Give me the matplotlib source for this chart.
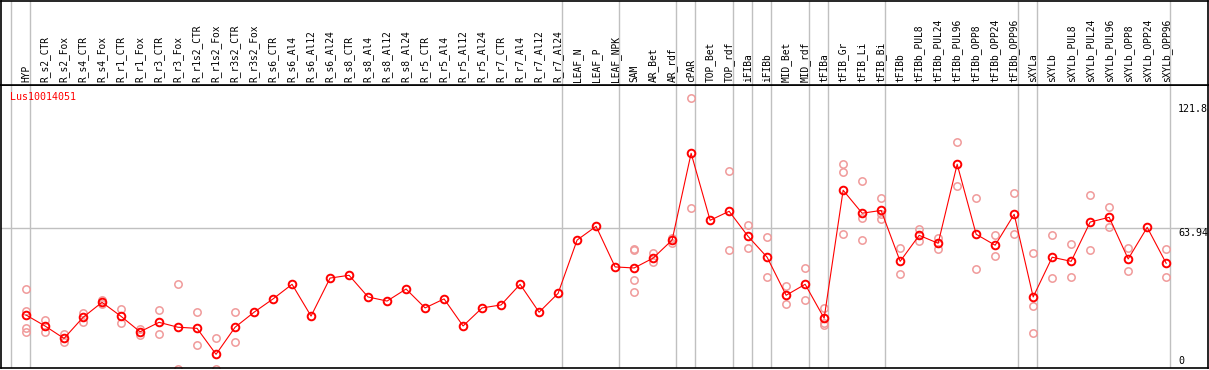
import matplotlib
matplotlib.use("Agg")
import matplotlib.pyplot as plt

# sample labels shown in the header
labels = [
    "HYP",
    "R_s2_CTR", "R_s2_Fox", "R_s4_CTR", "R_s4_Fox", "R_r1_CTR", "R_r1_Fox",
    "R_r3_CTR", "R_r3_Fox", "R_r1s2_CTR", "R_r1s2_Fox", "R_r3s2_CTR", "R_r3s2_Fox",
    "R_s6_CTR", "R_s6_Al4", "R_s6_Al12", "R_s6_Al24",
    "R_s8_CTR", "R_s8_Al4", "R_s8_Al12", "R_s8_Al24",
    "R_r5_CTR", "R_r5_Al4", "R_r5_Al12", "R_r5_Al24",
    "R_r7_CTR", "R_r7_Al4", "R_r7_Al12", "R_r7_Al24",
    "LEAF_N", "LEAF_P", "LEAF_NPK",
    "SAM", "AR_Bet", "AR_rdf",
    "cPAR",
    "TOP_Bet", "TOP_rdf",
    "iFIBa",
    "iFIBb",
    "MID_Bet", "MID_rdf",
    "tFIBa",
    "tFIB_Gr", "tFIB_Li", "tFIB_Bi",
    "tFIBb", "tFIBb_PUL8", "tFIBb_PUL24", "tFIBb_PUL96",
    "tFIBb_OPP8", "tFIBb_OPP24", "tFIBb_OPP96",
    "sXYLa",
    "sXYLb", "sXYLb_PUL8", "sXYLb_PUL24", "sXYLb_PUL96",
    "sXYLb_OPP8", "sXYLb_OPP24", "sXYLb_OPP96",
]

# size of each sample group (separators drawn between groups)
group_sizes = [1, 28, 3, 3, 1, 2, 1, 1, 2, 1, 3, 7, 1, 7]

means = [
    23.6,
    18.5, 12.7, 22.5, 29.5, 23.0, 15.8, 20.2, 17.9, 17.4, 5.3, 17.9, 24.9,
    31.1, 37.9, 23.1, 40.8, 42.1, 32.0, 30.1, 35.7,
    26.9, 31.1, 18.5, 26.9, 28.3, 37.9, 24.9, 33.7,
    58.5, 64.9, 46.0,
    45.5, 50.1, 58.5,
    98.9,
    67.7, 71.9,
    60.2,
    50.5,
    32.8, 37.9,
    22.1,
    81.7, 71.0, 72.3,
    48.6, 60.7, 57.0, 93.8, 61.2, 56.1, 70.5,
    32.0,
    50.5, 48.6, 66.9, 69.1, 49.7, 64.4, 47.7,
]

replicates = [
    [35.7, 25.5, 17.4, 15.5],
    [21.3, 15.5], [14.6, 11.2], [24.5, 20.2], [30.6, 28.6], [26.4, 19.7],
    [17.1, 14.3], [25.8, 14.6], [37.9, -1.5], [24.9, 9.6], [12.7, -1.5],
    [24.9, 11.0], [],
    [], [], [], [], [], [], [], [],
    [], [], [], [], [], [], [], [],
    [], [], [],
    [54.5, 54.0, 39.8, 34.2], [52.3, 48.1], [59.6, 57.3],
    [124.5, 73.3],
    [], [90.5, 53.9],
    [65.5, 54.7],
    [59.8, 41.2],
    [37.1, 28.6], [45.5, 30.6],
    [27.0, 20.0, 19.0],
    [93.8, 90.0, 61.2], [85.8, 68.9, 58.5], [77.9, 70.5, 68.5],
    [54.7, 42.6], [63.6, 57.9], [59.5, 54.2], [104.0, 83.5],
    [77.9, 45.0], [60.7, 50.9], [80.3, 61.2],
    [52.3, 27.7, 15.1],
    [60.7, 40.7], [56.5, 41.2], [79.3, 53.7], [73.7, 64.4],
    [54.7, 44.0], [], [54.2, 41.2],
]

gene = "Lus10014051"
scale_values = [121.8, 63.94, 0]

W, H = 1209, 370
fig = plt.figure(figsize=(W / 100, H / 100), dpi=100)
font = "DejaVu Sans Mono"

ax = fig.add_axes([1 / W, 2 / H, 1207 / W, 283 / H])
hdr = fig.add_axes([1 / W, 285 / H, 1207 / W, 84 / H], sharex=ax)

x = list(range(len(labels)))
ax.set_xlim(-1.316, 62.2)
ax.set_ylim(-1.07, 130.7)
hdr.set_ylim(0, 1)

# group separators
edges = [-0.8]
pos = -1
for n in group_sizes:
    pos += n
    edges.append(pos + 0.2)
for e in edges:
    ax.axvline(e, color="#c0c0c0", lw=1, zorder=1)
    hdr.axvline(e, color="#c0c0c0", lw=1, zorder=1)
ax.axhline(scale_values[1], color="#c0c0c0", lw=1, zorder=1)

# replicates
rx, ry = [], []
for i, reps in enumerate(replicates):
    for v in reps:
        rx.append(i)
        ry.append(v)
ax.plot(rx, ry, ls="none", marker="o", ms=5.3, mfc="none",
        mec="#f09a9a", mew=1.1, zorder=2)

# means
ax.plot(x, means, color="red", lw=0.8, marker="o", ms=5.5, mfc="none",
        mec="red", mew=1.4, zorder=3)

for i, lab in enumerate(labels):
    hdr.text(i, 0.03, lab, rotation=90, ha="center", va="bottom",
             fontsize=6.9, family=font, color="black")

ax.text(9 / 1207, 1 - 12 / 283, gene, transform=ax.transAxes, color="red",
        fontsize=7.2, family=font, ha="left", va="center")

tx = (1178 - 26) / 19
ax.text(tx, scale_values[0], "121.8", fontsize=7.2, family=font, va="top", ha="left")
ax.text(tx, scale_values[1], "63.94", fontsize=7.2, family=font, va="top", ha="left")
ax.text(tx, scale_values[2], "0", fontsize=7.2, family=font, va="bottom", ha="left")

for a in (ax, hdr):
    a.set_xticks([])
    a.set_yticks([])
    for s in a.spines.values():
        s.set_color("black")
        s.set_linewidth(1.2)

fig.savefig("out.png", dpi=100)
